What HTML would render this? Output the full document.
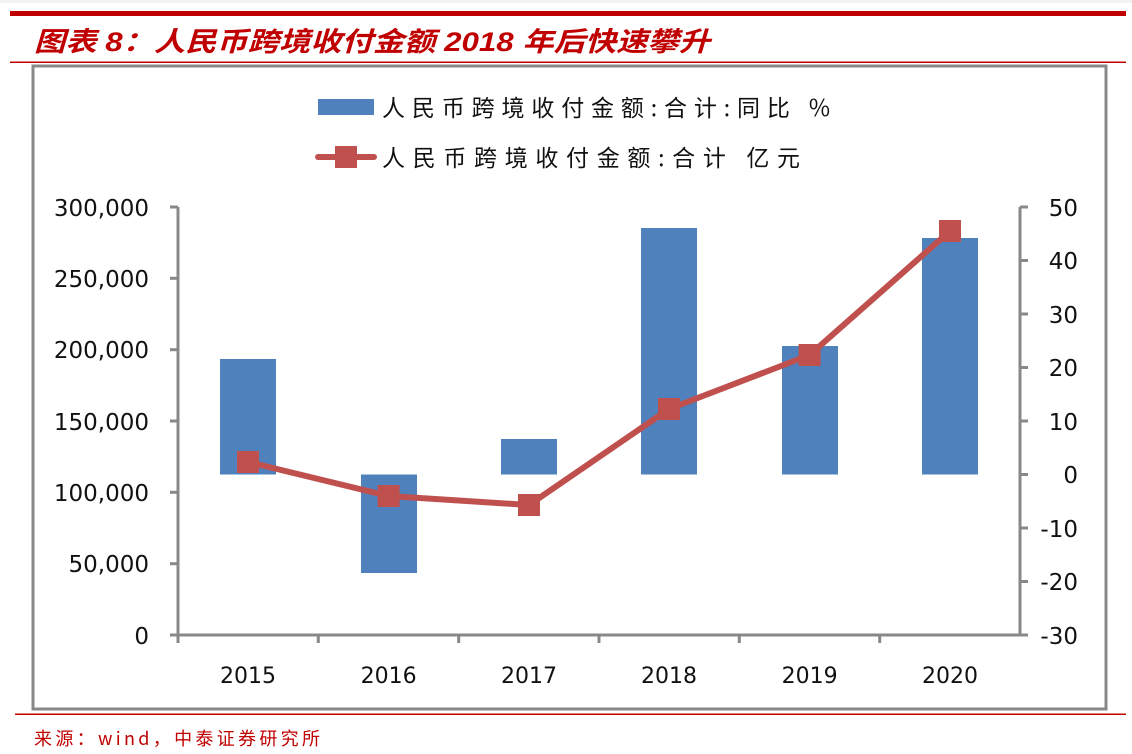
<!DOCTYPE html>
<html><head><meta charset="utf-8"><style>
body{margin:0;background:#fff;}
svg{display:block;}
</style></head><body>
<svg width="1132" height="754" viewBox="0 0 1132 754" xmlns="http://www.w3.org/2000/svg">
<rect x="0" y="0" width="1132" height="3" fill="#f2f2f2"/>
<rect x="10" y="11" width="1116" height="5" fill="#c00000"/>
<text x="34" y="51" font-family="'Liberation Sans','Noto Sans CJK SC',sans-serif" font-size="27" font-weight="bold" font-style="italic" fill="#c00000" textLength="676" lengthAdjust="spacingAndGlyphs">图表 8：人民币跨境收付金额 2018 年后快速攀升</text>
<rect x="10" y="61.5" width="1116" height="1.5" fill="#c00000"/>
<rect x="33" y="66" width="1073" height="643" fill="#fff" stroke="#888" stroke-width="3"/>
<!-- legend -->
<rect x="318" y="99" width="56" height="16" fill="#4f81bd"/>
<text x="382" y="116" font-family="'Noto Sans CJK SC',sans-serif" font-size="23" fill="#111" textLength="448" lengthAdjust="spacing">人民币跨境收付金额:合计:同比 %</text>
<line x1="318" y1="157" x2="374" y2="157" stroke="#c0504d" stroke-width="6" stroke-linecap="round"/>
<rect x="335" y="146" width="22" height="22" fill="#c0504d"/>
<text x="382" y="166" font-family="'Noto Sans CJK SC',sans-serif" font-size="23" fill="#111" textLength="418" lengthAdjust="spacing">人民币跨境收付金额:合计 亿元</text>
<!-- axes -->
<g stroke="#888" stroke-width="3" fill="none">
<line x1="178" y1="207" x2="178" y2="636"/>
<line x1="170" y1="207" x2="178" y2="207"/><line x1="170" y1="278.3" x2="178" y2="278.3"/>
<line x1="170" y1="349.7" x2="178" y2="349.7"/><line x1="170" y1="421" x2="178" y2="421"/>
<line x1="170" y1="492.3" x2="178" y2="492.3"/><line x1="170" y1="563.7" x2="178" y2="563.7"/>
<line x1="170" y1="635" x2="1020" y2="635"/>
<line x1="1020" y1="207" x2="1020" y2="636"/>
<line x1="1020" y1="207" x2="1028" y2="207"/><line x1="1020" y1="260.5" x2="1028" y2="260.5"/>
<line x1="1020" y1="314" x2="1028" y2="314"/><line x1="1020" y1="367.5" x2="1028" y2="367.5"/>
<line x1="1020" y1="421" x2="1028" y2="421"/><line x1="1020" y1="474.5" x2="1028" y2="474.5"/>
<line x1="1020" y1="528" x2="1028" y2="528"/><line x1="1020" y1="581.5" x2="1028" y2="581.5"/>
<line x1="1020" y1="635" x2="1028" y2="635"/>
<line x1="318.3" y1="635" x2="318.3" y2="643"/><line x1="458.7" y1="635" x2="458.7" y2="643"/>
<line x1="599" y1="635" x2="599" y2="643"/><line x1="739.3" y1="635" x2="739.3" y2="643"/>
<line x1="879.7" y1="635" x2="879.7" y2="643"/><line x1="178" y1="635" x2="178" y2="643"/>
</g>
<g font-family="'DejaVu Sans','Liberation Sans',sans-serif" font-size="23" fill="#111" text-anchor="end">
<text x="149" y="216">300,000</text><text x="149" y="287">250,000</text>
<text x="149" y="358">200,000</text><text x="149" y="430">150,000</text>
<text x="149" y="501">100,000</text><text x="149" y="572">50,000</text>
<text x="149" y="644">0</text>
</g>
<g font-family="'DejaVu Sans','Liberation Sans',sans-serif" font-size="23" fill="#111" text-anchor="end">
<text x="1078" y="216">50</text><text x="1078" y="269">40</text><text x="1078" y="323">30</text>
<text x="1078" y="376">20</text><text x="1078" y="430">10</text><text x="1078" y="483">0</text>
<text x="1078" y="537">-10</text><text x="1078" y="590">-20</text><text x="1078" y="644">-30</text>
</g>
<g font-family="'DejaVu Sans','Liberation Sans',sans-serif" font-size="22" fill="#111" text-anchor="middle">
<text x="248" y="683">2015</text><text x="388.6" y="683">2016</text><text x="529" y="683">2017</text>
<text x="669" y="683">2018</text><text x="809.6" y="683">2019</text><text x="950" y="683">2020</text>
</g>
<!-- bars -->
<g fill="#4f81bd">
<rect x="220" y="359" width="56" height="115.5"/>
<rect x="361" y="474.5" width="56" height="98.5"/>
<rect x="501" y="439" width="56" height="35.5"/>
<rect x="641" y="228" width="56" height="246.5"/>
<rect x="782" y="346" width="56" height="128.5"/>
<rect x="922" y="238" width="56" height="236.5"/>
</g>
<!-- line -->
<polyline points="248,462 388.6,496 529,505 669,409 809.6,355 950,231" fill="none" stroke="#c0504d" stroke-width="6" stroke-linejoin="round"/>
<g fill="#c0504d">
<rect x="237" y="451" width="22" height="22"/><rect x="377.6" y="485" width="22" height="22"/>
<rect x="518" y="494" width="22" height="22"/><rect x="658" y="398" width="22" height="22"/>
<rect x="798.6" y="344" width="22" height="22"/><rect x="939" y="220" width="22" height="22"/>
</g>
<rect x="15" y="713.5" width="1111" height="1.5" fill="#c00000"/>
<text x="34" y="745" font-family="'Noto Sans CJK SC',sans-serif" font-size="18" fill="#c00000" textLength="286" lengthAdjust="spacing">来源：wind，中泰证券研究所</text>
</svg>
</body></html>
